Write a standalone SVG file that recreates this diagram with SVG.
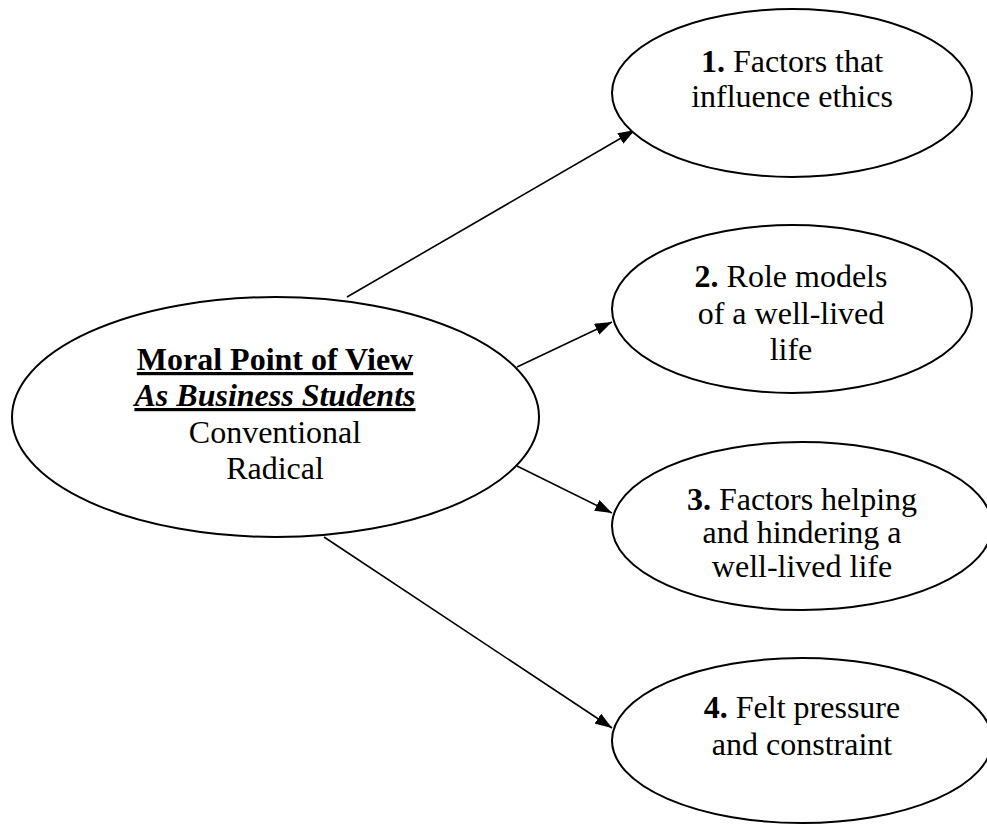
<svg xmlns="http://www.w3.org/2000/svg" width="987" height="825" viewBox="0 0 987 825">
<defs>
<style>
.node ellipse{fill:#fff;stroke:#000;stroke-width:2}
text{font-family:"Liberation Serif","Times New Roman",serif;font-size:32px;fill:#000;text-anchor:middle}
.b{font-weight:bold}
.u{text-decoration:underline}
.i{font-style:italic}
.conn line{stroke:#000;stroke-width:1.6}
</style>
<marker id="arr" markerUnits="userSpaceOnUse" viewBox="0 0 17 12" refX="17" refY="6" markerWidth="17" markerHeight="12" orient="auto">
<path d="M0,0 L17,6 L0,12 Z" fill="#000"/>
</marker>
</defs>
<rect width="987" height="825" fill="#fff"/>
<g id="connectors" class="conn">
<line x1="347" y1="297" x2="635" y2="130" marker-end="url(#arr)"/>
<line x1="517" y1="367" x2="612" y2="322" marker-end="url(#arr)"/>
<line x1="517" y1="466" x2="612" y2="513" marker-end="url(#arr)"/>
<line x1="324" y1="537" x2="612" y2="728" marker-end="url(#arr)"/>
</g>
<g id="center" class="node">
<ellipse cx="275.5" cy="417" rx="263.5" ry="120"/>
<text x="275" y="370" class="b u">Moral Point of View</text>
<text x="275" y="406" class="b i u">As Business Students</text>
<text x="275" y="443">Conventional</text>
<text x="275" y="479">Radical</text>
</g>
<g id="n1" class="node">
<ellipse cx="792" cy="93" rx="180" ry="84"/>
<text x="792" y="72"><tspan class="b">1.</tspan> Factors that</text>
<text x="792" y="107">influence ethics</text>
</g>
<g id="n2" class="node">
<ellipse cx="792" cy="309" rx="180" ry="84"/>
<text x="791" y="287"><tspan class="b">2.</tspan> Role models</text>
<text x="791" y="324">of a well-lived</text>
<text x="791" y="360">life</text>
</g>
<g id="n3" class="node">
<ellipse cx="802" cy="526" rx="190" ry="84"/>
<text x="802" y="510"><tspan class="b">3.</tspan> Factors helping</text>
<text x="802" y="543">and hindering a</text>
<text x="802" y="577">well-lived life</text>
</g>
<g id="n4" class="node">
<ellipse cx="802" cy="740.5" rx="190" ry="82.5"/>
<text x="802" y="718"><tspan class="b">4.</tspan> Felt pressure</text>
<text x="802" y="755">and constraint</text>
</g>
</svg>
